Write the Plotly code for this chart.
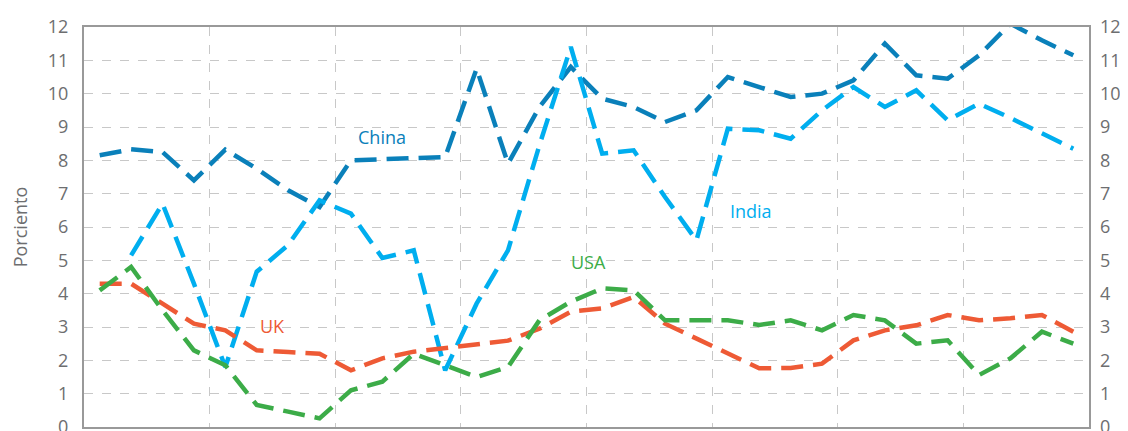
import plotly.graph_objects as go

quarters = list(range(32))
china = [8.15, 8.33, 8.25, 7.4, 8.32, 7.75, 7.1, 6.6, 8.0, 8.03, 8.06, 8.1,
         10.75, 7.9, 9.6, 10.8, 9.85, 9.6, 9.15, 9.5, 10.5, 10.2, 9.9, 10.0,
         10.4, 11.5, 10.55, 10.45, 11.15, 12.1, 11.6, 11.15]
india = [None, 5.15, 6.7, 4.3, 1.8, 4.66, 5.46, 6.8, 6.4, 5.07, 5.3, 1.7,
         3.7, 5.3, 8.45, 11.4, 8.2, 8.3, 6.9, 5.6, 8.95, 8.9, 8.65, 9.5,
         10.2, 9.6, 10.1, 9.2, 9.7, 9.27, 8.8, 8.35]
uk = [4.3, 4.3, 3.7, 3.1, 2.9, 2.3, 2.25, 2.2, 1.7, 2.06, 2.26, 2.36,
      2.46, 2.59, 2.95, 3.46, 3.56, 3.9, 3.1, 2.66, 2.2, 1.76, 1.77, 1.9,
      2.6, 2.9, 3.05, 3.36, 3.2, 3.26, 3.36, 2.86]
usa = [4.1, 4.8, 3.5, 2.3, 1.85, 0.66, 0.46, 0.26, 1.1, 1.36, 2.2, 1.86,
       1.5, 1.8, 3.2, 3.76, 4.16, 4.1, 3.2, 3.2, 3.2, 3.06, 3.2, 2.9,
       3.36, 3.2, 2.5, 2.6, 1.56, 2.06, 2.86, 2.5]

series_names = ["China", "India", "UK", "USA"]
colors = {"China": "#0a80ba", "India": "#00aeef", "UK": "#ee5a35", "USA": "#3cac48"}
label_pos = {"China": (8.98, 8.7), "India": (20.73, 6.48), "USA": (15.57, 4.95), "UK": (5.5, 3.03)}
y_ticks = list(range(0, 13))

fig = go.Figure()
for name, vals in zip(series_names, [china, india, uk, usa]):
    fig.add_trace(go.Scatter(x=quarters, y=vals, mode="lines", name=name,
                             line=dict(color=colors[name], width=4.5, dash="22px,10px"),
                             connectgaps=False, showlegend=False, hoverinfo="skip"))
# invisible trace for right axis
fig.add_trace(go.Scatter(x=[0], y=[0], yaxis="y2", mode="markers",
                         marker=dict(opacity=0), showlegend=False, hoverinfo="skip"))

for name, (lx, ly) in label_pos.items():
    fig.add_annotation(x=lx, y=ly, text=name, showarrow=False,
                       font=dict(family="Open Sans, sans-serif", size=18, color=colors[name]))

tick_font = dict(family="Open Sans, sans-serif", size=18, color="#6d6e70")
fig.update_layout(
    width=1120, height=423, autosize=False,
    margin=dict(l=76, r=39, t=19, b=4, autoexpand=False),
    paper_bgcolor="white", plot_bgcolor="white",
    xaxis=dict(range=[-0.5, 31.5], tickvals=[3.5, 7.5, 11.5, 15.5, 19.5, 23.5, 27.5],
               showticklabels=False, ticks="", showgrid=True, gridcolor="#c8c8c8",
               gridwidth=1, griddash="dash", zeroline=False,
               showline=True, mirror=True, linecolor="#999999", linewidth=2),
    yaxis=dict(range=[0, 12], tickvals=y_ticks, ticks="", tickfont=tick_font,
               showgrid=True, gridcolor="#c8c8c8", gridwidth=1, griddash="dash",
               zeroline=False, showline=True, mirror=True, linecolor="#999999",
               linewidth=2, ticklabelstandoff=10, ticklabeloverflow="allow",
               title=dict(text="Porciento", font=dict(family="Open Sans, sans-serif", size=18, color="#6d6e70"),
                          standoff=18)),
    yaxis2=dict(range=[0, 12], tickvals=y_ticks, ticks="", tickfont=tick_font,
                overlaying="y", side="right", showgrid=False, zeroline=False,
                showline=False, ticklabelstandoff=10, ticklabeloverflow="allow"),
)

fig.write_html("out.html")
